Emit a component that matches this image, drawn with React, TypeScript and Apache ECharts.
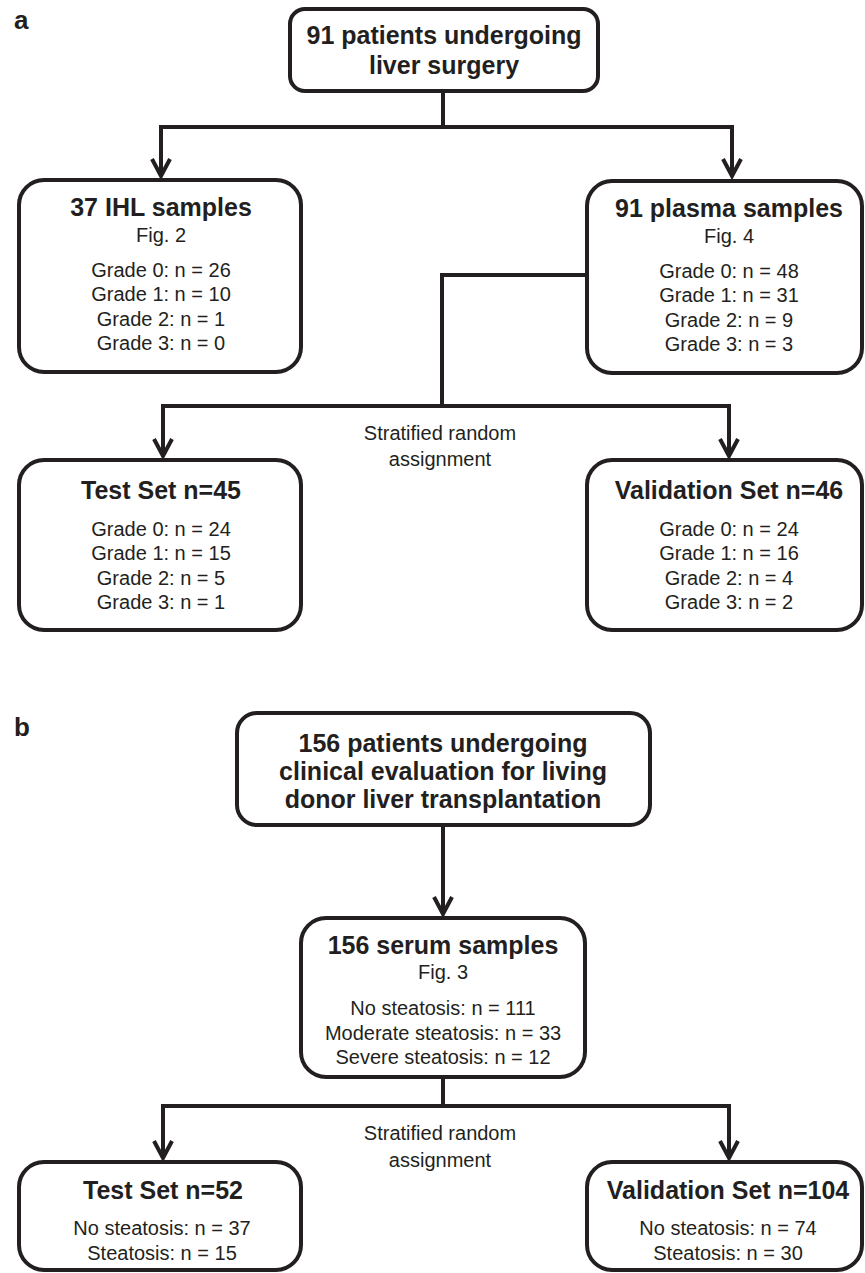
import React, { useEffect, useRef } from "react";
import * as echarts from "echarts";

// ---- Data ----
const gradeLabels = ["Grade 0", "Grade 1", "Grade 2", "Grade 3"];
const ihlCounts = [26, 10, 1, 0];
const plasmaCounts = [48, 31, 9, 3];
const testCountsA = [24, 15, 5, 1];
const validationCountsA = [24, 16, 4, 2];

const serumLabels = ["No steatosis", "Moderate steatosis", "Severe steatosis"];
const serumCounts = [111, 33, 12];
const splitLabelsB = ["No steatosis", "Steatosis"];
const testCountsB = [37, 15];
const validationCountsB = [74, 30];

const totalA = 91;
const ihlTotal = 37;
const totalB = 156;
const sum = (a: number[]) => a.reduce((s, v) => s + v, 0);

const C = "#231f20";
const FONT = '"Liberation Sans", Arial, Helvetica, sans-serif';

function rect(x: number, y: number, w: number, h: number, r: number) {
  return {
    type: "rect",
    shape: { x, y, width: w, height: h, r },
    style: { fill: "#ffffff", stroke: C, lineWidth: 4 },
  };
}

function txt(x: number, y: number, s: string, bold = false, size = 20) {
  return {
    type: "text",
    x,
    y,
    style: {
      text: s,
      fill: C,
      fontSize: size,
      fontWeight: bold ? "bold" : "normal",
      fontFamily: FONT,
      align: "center",
      verticalAlign: "middle",
    },
  };
}

function poly(points: number[][]) {
  return {
    type: "polyline",
    shape: { points },
    style: { stroke: C, lineWidth: 4, fill: null, lineJoin: "miter", lineCap: "butt", miterLimit: 10 },
  };
}

function head(x: number, tipY: number) {
  const t = tipY - 4;
  return poly([
    [x - 9, t - 17],
    [x, t],
    [x + 9, t - 17],
  ]);
}

function lines(x: number, y0: number, dy: number, items: string[]) {
  return items.map((s, i) => txt(x, y0 + i * dy, s));
}

export default function App() {
  const ref = useRef<HTMLDivElement>(null);
  useEffect(() => {
    if (!ref.current) return;
    const chart = echarts.init(ref.current, undefined, { renderer: "svg" });

    const LX = 161; // left column text center
    const RX = 729; // right column text center
    const MX = 443; // middle

    const els: any[] = [];
    // panel labels
    els.push({
      type: "text",
      x: 14,
      y: 20,
      style: { text: "a", fill: C, fontSize: 26, fontWeight: "bold", fontFamily: FONT, align: "left", verticalAlign: "middle" },
    });
    els.push({
      type: "text",
      x: 14,
      y: 727,
      style: { text: "b", fill: C, fontSize: 26, fontWeight: "bold", fontFamily: FONT, align: "left", verticalAlign: "middle" },
    });

    // ----- Panel a -----
    els.push(rect(290, 9, 308, 82, 15));
    els.push(rect(19, 180, 282, 192, 25));
    els.push(rect(587, 181, 275, 192, 25));
    els.push(rect(19, 460, 282, 170, 25));
    els.push(rect(587, 460, 275, 170, 25));

    els.push(poly([[MX, 91], [MX, 127]]));
    els.push(poly([[LX, 176], [LX, 127], [732, 127], [732, 176]]));
    els.push(head(LX, 180));
    els.push(head(732, 180));

    els.push(poly([[587, 275], [442, 275], [442, 406]]));
    els.push(poly([[163, 456], [163, 406], [RX, 406], [RX, 456]]));
    els.push(head(163, 460));
    els.push(head(RX, 460));

    els.push(txt(444, 35, `${totalA} patients undergoing`, true, 25));
    els.push(txt(444, 65, "liver surgery", true, 25));

    els.push(txt(LX, 207, `${ihlTotal} IHL samples`, true, 25));
    els.push(txt(LX, 235, "Fig. 2"));
    els.push(...lines(LX, 270, 24.3, gradeLabels.map((g, i) => `${g}: n = ${ihlCounts[i]}`)));

    els.push(txt(RX, 208, `${sum(plasmaCounts)} plasma samples`, true, 25));
    els.push(txt(RX, 236, "Fig. 4"));
    els.push(...lines(RX, 271, 24.3, gradeLabels.map((g, i) => `${g}: n = ${plasmaCounts[i]}`)));

    els.push(txt(440, 433, "Stratified random"));
    els.push(txt(440, 459, "assignment"));

    els.push(txt(LX, 490, `Test Set n=${sum(testCountsA)}`, true, 25));
    els.push(...lines(LX, 529, 24.3, gradeLabels.map((g, i) => `${g}: n = ${testCountsA[i]}`)));
    els.push(txt(RX, 490, `Validation Set n=${sum(validationCountsA)}`, true, 25));
    els.push(...lines(RX, 529, 24.3, gradeLabels.map((g, i) => `${g}: n = ${validationCountsA[i]}`)));

    // ----- Panel b -----
    els.push(rect(237, 713, 413, 112, 20));
    els.push(rect(301, 918, 284, 159, 25));
    els.push(rect(19, 1162, 282, 108, 25));
    els.push(rect(587, 1162, 275, 108, 25));

    els.push(poly([[MX, 825], [MX, 914]]));
    els.push(head(MX, 918));
    els.push(poly([[MX, 1077], [MX, 1106]]));
    els.push(poly([[163, 1158], [163, 1106], [RX, 1106], [RX, 1158]]));
    els.push(head(163, 1162));
    els.push(head(RX, 1162));

    els.push(txt(MX, 743, `${totalB} patients undergoing`, true, 25));
    els.push(txt(MX, 771, "clinical evaluation for living", true, 25));
    els.push(txt(MX, 799, "donor liver transplantation", true, 25));

    els.push(txt(MX, 945, `${sum(serumCounts)} serum samples`, true, 25));
    els.push(txt(MX, 972, "Fig. 3"));
    els.push(...lines(MX, 1008, 24.5, serumLabels.map((g, i) => `${g}: n = ${serumCounts[i]}`)));

    els.push(txt(440, 1133, "Stratified random"));
    els.push(txt(440, 1160, "assignment"));

    els.push(txt(163, 1190, `Test Set n=${sum(testCountsB)}`, true, 25));
    els.push(...lines(162, 1228, 25, splitLabelsB.map((g, i) => `${g}: n = ${testCountsB[i]}`)));
    els.push(txt(728, 1190, `Validation Set n=${sum(validationCountsB)}`, true, 25));
    els.push(...lines(728, 1228, 25, splitLabelsB.map((g, i) => `${g}: n = ${validationCountsB[i]}`)));

    chart.setOption({
      animation: false,
      backgroundColor: "#ffffff",
      graphic: { elements: els },
    });
    return () => chart.dispose();
  }, []);

  return (
    <div
      ref={ref}
      style={{ position: "absolute", left: 0, top: 0, width: 865, height: 1273, background: "#fff" }}
    />
  );
}
